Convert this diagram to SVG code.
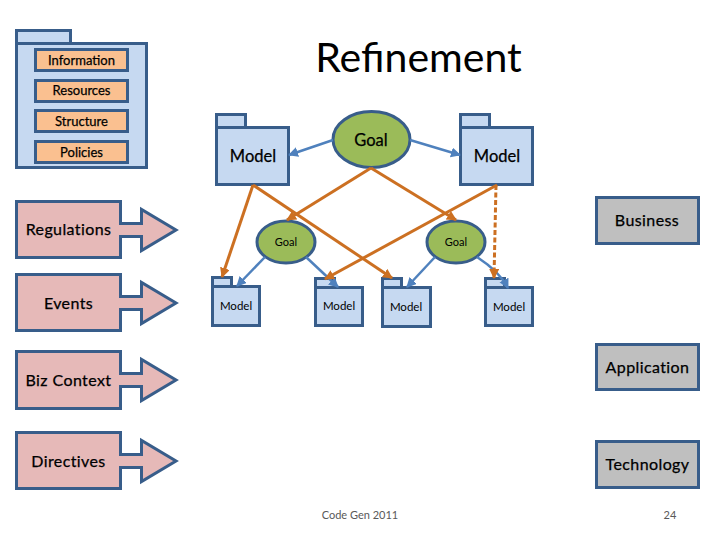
<svg xmlns="http://www.w3.org/2000/svg" width="720" height="540" viewBox="0 0 720 540">
<style>
text{font-family:Lato,"Noto Sans","Liberation Sans",sans-serif;fill:#000;text-anchor:middle}
.s{stroke:#385D8A;stroke-width:3}
.pk{fill:#C6D9F1}
.or{fill:#FAC090;stroke:#385D8A;stroke-width:3}
.pi{fill:#E6B9B8;stroke:#385D8A;stroke-width:3}
.gr{fill:#BFBFBF;stroke:#385D8A;stroke-width:3}
.go{fill:#9BBB59;stroke:#385D8A;stroke-width:3}
.o{stroke:#CC7022;stroke-width:3;fill:none;marker-end:url(#ao)}
.b{stroke:#4F81BD;stroke-width:2.500;fill:none;marker-end:url(#ab)}
.t12{font-size:13px;stroke:#000;stroke-width:.25}
.t14{font-size:16px;letter-spacing:.4px;stroke:#000;stroke-width:.25}
.t17{font-size:16.500px;stroke:#000;stroke-width:.25}
.t11{font-size:11px}
.m{font-size:11.500px}
.f{font-size:11px;fill:#595959}
</style>
<defs>
<marker id="ao" markerUnits="userSpaceOnUse" markerWidth="12" markerHeight="12" refX="9" refY="5" orient="auto"><path d="M0 0L10 5L0 10Z" fill="#CC7022"/></marker>
<marker id="ab" markerUnits="userSpaceOnUse" markerWidth="12" markerHeight="12" refX="9" refY="5" orient="auto"><path d="M0 0L10 5L0 10Z" fill="#4F81BD"/></marker>
</defs>
<text x="418.500" y="72" font-size="41">Refinement</text>
<g id="package">
<rect class="pk s" x="16.500" y="30.500" width="54" height="13"/>
<rect class="pk s" x="16.500" y="43.500" width="130" height="124"/>
</g>
<g id="information"><rect class="or" x="35.500" y="49.500" width="92" height="21"/><text class="t12" x="81.500" y="65">Information</text></g>
<g id="resources"><rect class="or" x="35.500" y="80.500" width="92" height="21"/><text class="t12" x="81.500" y="95">Resources</text></g>
<g id="structure"><rect class="or" x="35.500" y="110.500" width="92" height="21"/><text class="t12" x="81.500" y="126">Structure</text></g>
<g id="policies"><rect class="or" x="35.500" y="141.500" width="92" height="21"/><text class="t12" x="81.500" y="157">Policies</text></g>
<g id="regulations"><path class="pi" d="M16.500 201.500H120.500V223.500H141.500V209.500L176 230L141.500 250.500V236.500H120.500V257.500H16.500Z"/><text class="t14" x="68.500" y="235">Regulations</text></g>
<g id="events"><path class="pi" d="M16.500 274.500H120.500V296.500H141.500V282.500L176 303L141.500 323.500V309.500H120.500V330.500H16.500Z"/><text class="t14" x="68.500" y="309">Events</text></g>
<g id="biz-context"><path class="pi" d="M16.500 351.500H120.500V373.500H141.500V359.500L176 380L141.500 400.500V386.500H120.500V408.500H16.500Z"/><text class="t14" x="68.500" y="386">Biz Context</text></g>
<g id="directives"><path class="pi" d="M16.500 432.500H120.500V454.500H141.500V440.500L176 461L141.500 481.500V467.500H120.500V488.500H16.500Z"/><text class="t14" x="68.500" y="467">Directives</text></g>
<g id="business"><rect class="gr" x="596.500" y="197.500" width="102" height="46"/><text class="t14" x="647" y="226">Business</text></g>
<g id="application"><rect class="gr" x="596.500" y="344.500" width="102" height="45"/><text class="t14" x="647.500" y="373">Application</text></g>
<g id="technology"><rect class="gr" x="596.500" y="441.500" width="102" height="46"/><text class="t14" x="647.500" y="470">Technology</text></g>
<g id="model-a"><rect class="pk s" x="216.500" y="114.500" width="29" height="13"/><rect class="pk s" x="216.500" y="127.500" width="72" height="57"/><text class="t17" x="253" y="162">Model</text></g>
<g id="model-b"><rect class="pk s" x="460.500" y="114.500" width="29" height="13"/><rect class="pk s" x="460.500" y="127.500" width="72" height="57"/><text class="t17" x="497" y="162">Model</text></g>
<g id="goal-top"><ellipse class="go" cx="371.500" cy="139.500" rx="38.500" ry="28"/><text class="t17" x="371" y="146">Goal</text></g>
<g id="goal-left"><ellipse class="go" cx="286" cy="242" rx="29" ry="21"/><text class="t11" x="286" y="246">Goal</text></g>
<g id="goal-right"><ellipse class="go" cx="456" cy="242" rx="29" ry="21"/><text class="t11" x="456" y="246">Goal</text></g>
<g id="model-1"><rect class="pk s" x="212.500" y="277.500" width="19" height="9"/><rect class="pk s" x="212.500" y="286.500" width="47" height="39"/><text class="m" x="236" y="310">Model</text></g>
<g id="model-2"><rect class="pk s" x="315.500" y="278.500" width="19" height="9"/><rect class="pk s" x="315.500" y="287.500" width="47" height="38"/><text class="m" x="339" y="310">Model</text></g>
<g id="model-3"><rect class="pk s" x="382.500" y="278.500" width="19" height="9"/><rect class="pk s" x="382.500" y="287.500" width="48" height="39"/><text class="m" x="406" y="311">Model</text></g>
<g id="model-4"><rect class="pk s" x="485.500" y="278.500" width="19" height="9"/><rect class="pk s" x="485.500" y="287.500" width="47" height="38"/><text class="m" x="509" y="311">Model</text></g>
<g id="connectors">
<path class="b" d="M333 140L289 155"/>
<path class="b" d="M410 140L460 155"/>
<path class="b" d="M265 257L237 286"/>
<path class="b" d="M306 257L338 287"/>
<path class="b" d="M435 257L407 287"/>
<path class="b" d="M477 257Q500 272 508 288"/>
<path class="o" d="M371 168L287 220"/>
<path class="o" d="M371 168L456 220"/>
<path class="o" d="M253 185L222 277"/>
<path class="o" d="M253 185L392 278"/>
<path class="o" d="M497 185L325 279"/>
<path class="o" d="M496 185L494 278" stroke-dasharray="5 2.500"/>
</g>
<text class="f" x="360" y="519">Code Gen 2011</text>
<text class="f" x="670" y="519">24</text>
</svg>
